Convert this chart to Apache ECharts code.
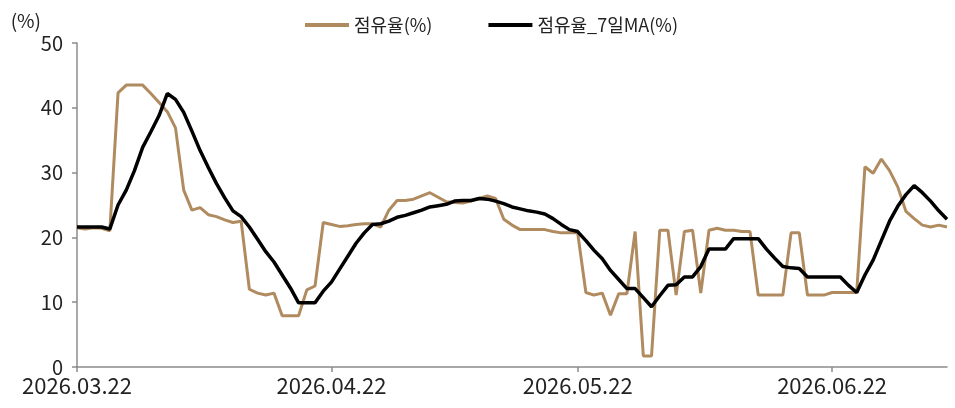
<!DOCTYPE html>
<html>
<head>
<meta charset="utf-8">
<script src="https://cdn.jsdelivr.net/npm/echarts@6/dist/echarts.min.js"></script>
<style>
  html, body { margin: 0; padding: 0; background: #fff; }
  #main { width: 955px; height: 408px; }
</style>
</head>
<body>
<div id="main"></div>
<script>
// 2026.03.22 ~ 2026.07.06, daily
const startDate = new Date(2026, 2, 22);
const dayCount = 107;
const dates = [];
for (let i = 0; i < dayCount; i++) {
  const d = new Date(startDate.getFullYear(), startDate.getMonth(), startDate.getDate() + i);
  const mm = String(d.getMonth() + 1).padStart(2, '0');
  const dd = String(d.getDate()).padStart(2, '0');
  dates.push(d.getFullYear() + '.' + mm + '.' + dd);
}
const tickDates = ['2026.03.22', '2026.04.22', '2026.05.22', '2026.06.22'];

// 점유율(%)
const occ = [
  21.5, 21.3, 21.5, 21.4, 21.0, 42.3, 43.5, 43.5, 43.5, 42.2,
  40.8, 39.4, 36.9, 27.3, 24.2, 24.6, 23.5, 23.2, 22.7, 22.3,
  22.5, 12.0, 11.4, 11.1, 11.4, 7.9, 7.9, 7.9, 11.9, 12.5,
  22.3, 22.0, 21.7, 21.8, 22.0, 22.1, 22.1, 21.6, 24.2, 25.7,
  25.7, 25.9, 26.4, 26.9, 26.2, 25.5, 25.4, 25.3, 25.6, 26.0,
  26.4, 26.0, 22.8, 21.9, 21.2, 21.2, 21.2, 21.2, 20.9, 20.7,
  20.7, 20.7, 11.5, 11.1, 11.4, 8.0, 11.3, 11.3, 20.9, 1.7,
  1.7, 21.1, 21.1, 11.1, 20.9, 21.1, 11.4, 21.1, 21.4, 21.1,
  21.1, 20.9, 20.9, 11.1, 11.1, 11.1, 11.1, 20.7, 20.7, 11.1,
  11.1, 11.1, 11.5, 11.5, 11.5, 11.5, 30.9, 29.9, 32.1, 30.3,
  27.8, 24.0, 22.9, 21.9, 21.6, 21.9, 21.6
];

// 점유율_7일MA(%)
const occMA7 = [
  21.6, 21.6, 21.6, 21.6, 21.3, 25.0, 27.3, 30.3, 33.9, 36.3,
  38.8, 42.2, 41.3, 39.3, 36.4, 33.4, 30.8, 28.3, 26.1, 24.1,
  23.2, 21.6, 19.7, 17.8, 16.2, 14.2, 12.2, 9.9, 9.9, 9.9,
  11.7, 13.1, 15.1, 17.1, 19.1, 20.7, 22.0, 22.1, 22.5, 23.1,
  23.4, 23.8, 24.2, 24.7, 24.9, 25.1, 25.6, 25.7, 25.7, 26.0,
  25.9, 25.6, 25.2, 24.7, 24.4, 24.1, 23.9, 23.6, 22.9, 22.0,
  21.2, 20.9, 19.5, 18.0, 16.7, 14.9, 13.5, 12.1, 12.1, 10.7,
  9.3, 11.0, 12.6, 12.7, 13.9, 13.9, 15.5, 18.2, 18.2, 18.2,
  19.8, 19.8, 19.8, 19.8, 18.2, 16.8, 15.5, 15.3, 15.2, 13.9,
  13.9, 13.9, 13.9, 13.9, 12.6, 11.5, 14.2, 16.5, 19.5, 22.5,
  24.8, 26.6, 28.0, 26.9, 25.6, 24.1, 22.8
];

const krFont = '"Noto Sans CJK KR", "Noto Sans", sans-serif';
const showTick = (idx) => tickDates.indexOf(dates[idx]) !== -1;

const chart = echarts.init(document.getElementById('main'), null, { renderer: 'canvas' });

const option = {
  animation: false,
  textStyle: { fontFamily: krFont },
  legend: {
    top: 11,
    left: 300,
    itemGap: 56,
    itemWidth: 44,
    itemHeight: 4,
    icon: 'rect',
    textStyle: { fontSize: 18, color: '#222', fontFamily: krFont },
    data: ['점유율(%)', '점유율_7일MA(%)']
  },
  grid: { left: 77, right: 8, top: 43, bottom: 41 },
  xAxis: {
    type: 'category',
    data: dates,
    boundaryGap: false,
    axisLine: { lineStyle: { color: '#8c8c8c', width: 1.5 } },
    axisTick: { show: true, interval: showTick, length: 5, lineStyle: { color: '#8c8c8c', width: 1.5 } },
    axisLabel: {
      interval: showTick,
      fontSize: 22,
      color: '#222',
      margin: 8
    }
  },
  yAxis: {
    type: 'value',
    min: 0,
    max: 50,
    interval: 10,
    name: '(%)',
    nameLocation: 'end',
    nameGap: 13,
    nameTextStyle: { fontSize: 19, color: '#222', align: 'right', padding: [0, 36, 0, 0] },
    axisLine: { show: true, lineStyle: { color: '#8c8c8c', width: 1.5 } },
    axisTick: { show: true, length: 5, lineStyle: { color: '#8c8c8c', width: 1.5 } },
    axisLabel: { fontSize: 20, color: '#222', margin: 14 },
    splitLine: { show: false }
  },
  series: [
    {
      name: '점유율(%)',
      type: 'line',
      data: occ,
      symbol: 'none',
      lineStyle: { color: '#b08b60', width: 3 },
      itemStyle: { color: '#b08b60' }
    },
    {
      name: '점유율_7일MA(%)',
      type: 'line',
      data: occMA7,
      symbol: 'none',
      lineStyle: { color: '#000000', width: 3.5 },
      itemStyle: { color: '#000000' }
    }
  ]
};

chart.setOption(option);
</script>
</body>
</html>
